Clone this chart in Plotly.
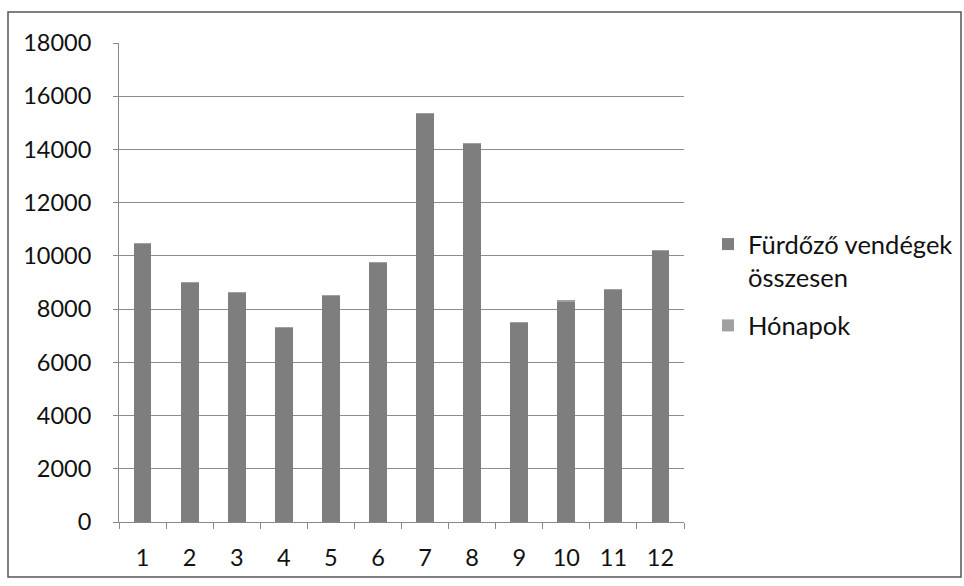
import plotly.graph_objects as go

months = ["1", "2", "3", "4", "5", "6", "7", "8", "9", "10", "11", "12"]
furdozo = [10450, 9000, 8620, 7300, 8510, 9750, 15350, 14220, 7500, 8300, 8720, 10200]
honapok = [1, 2, 3, 4, 5, 6, 7, 8, 9, 10, 11, 12]
y_ticks = [0, 2000, 4000, 6000, 8000, 10000, 12000, 14000, 16000, 18000]
y_labels = [str(v) for v in y_ticks]

FONT = "Lato"

fig = go.Figure()
fig.add_trace(go.Bar(
    x=months, y=furdozo, name="Fürdőző vendégek<br>összesen", legendgroup="a",
    marker=dict(color="#7e7e7e", line=dict(width=0)),
))
fig.add_trace(go.Bar(
    x=months, y=honapok, name="Hónapok", legendgroup="b",
    marker=dict(color="#a0a0a0", line=dict(width=0)),
))

W, H = 964, 586
L, R, T, B = 119, 280, 43, 64
pw, ph = W - L - R, H - T - B


def px_x(x):
    return (x - L) / pw


def px_y(y):
    return (H - B - y) / ph


fig.add_shape(type="rect", xref="paper", yref="paper",
              x0=px_x(8), x1=px_x(961), y0=px_y(577), y1=px_y(12),
              line=dict(color="#555555", width=1.5), layer="below")

fig.update_layout(
    width=W, height=H,
    margin=dict(l=L, r=R, t=T, b=B, autoexpand=False),
    barmode="stack",
    bargap=0.62,
    plot_bgcolor="white",
    paper_bgcolor="white",
    font=dict(family=FONT, size=24, color="#111111"),
    showlegend=True,
    legend=dict(
        xref="container", yref="container",
        x=708 / W, y=1 - 221 / H, xanchor="left", yanchor="top",
        traceorder="grouped", valign="top", tracegroupgap=12,
        font=dict(family=FONT, size=25.5, color="#111111"),
        bgcolor="rgba(0,0,0,0)",
    ),
)
fig.update_xaxes(
    type="category", showgrid=False, showline=True, linecolor="#888888", linewidth=1,
    ticks="outside", tickson="boundaries", ticklen=6, tickcolor="#888888",
    ticklabelstandoff=15, tickfont=dict(size=23.5),
)
fig.update_yaxes(
    range=[0, 18000], tickvals=y_ticks, ticktext=y_labels,
    showgrid=True, gridcolor="#8c8c8c", gridwidth=1,
    showline=True, linecolor="#888888", linewidth=1, ticks="outside", ticklen=5,
    tickcolor="#888888", zeroline=False, ticklabelstandoff=17, tickfont=dict(size=23.5),
)

fig.write_html(
    "out.html",
    config={"displayModeBar": False},
    post_script="document.body.style.margin='0';document.body.style.overflow='hidden';",
)
